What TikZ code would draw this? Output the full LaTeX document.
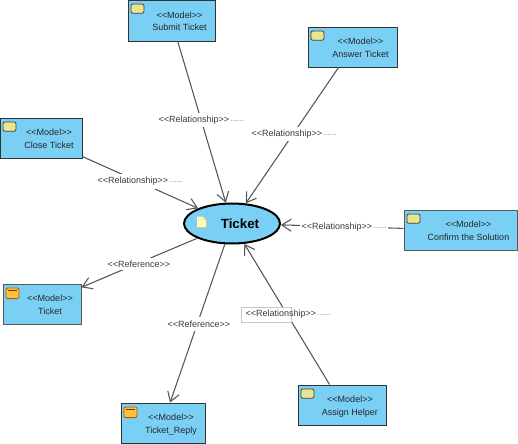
\documentclass[tikz,border=0pt]{standalone}
\usepackage{fontspec}
\setmainfont{Liberation Sans}
\usetikzlibrary{shapes.geometric,arrows.meta,calc}
\definecolor{modelblue}{HTML}{7ACFF5}
\definecolor{edgegrey}{HTML}{555555}
\definecolor{labelgrey}{HTML}{3A3A3A}
\definecolor{iconyellow}{HTML}{E8E48F}
\definecolor{iconorange}{HTML}{FFC040}
\newcommand{\mtext}[2]{\kern12pt\raisebox{-2.7pt}[0pt][0pt]{\begin{tabular}{@{}c@{}}#1\\#2\end{tabular}}}
\newcommand{\stm}[1]{{<}{<}#1{>}{>}}
\newcommand{\trail}{\kern1pt{\fontsize{4pt}{4pt}\selectfont\color{black}·\kern.1pt·\kern.1pt·\kern.1pt·\kern.1pt·\kern.1pt·\kern.1pt·}}
\tikzset{
  model/.style={draw=#1,fill=modelblue,line width=.7pt,rectangle,inner sep=0pt,
    font=\fontsize{6.75pt}{9.4pt}\selectfont,text=black!85,anchor=center},
  model/.default={black!80},
  conn/.style={draw=edgegrey,line width=.8pt,-{Straight Barb[length=7pt,width=9pt,line width=.8pt]}},
  lab/.style={fill=white,inner xsep=1pt,inner ysep=0pt,minimum height=11pt,anchor=west,
    font=\fontsize{6.75pt}{8pt}\selectfont,text=labelgrey},
  yicon/.style={draw=black!75,fill=iconyellow,rounded corners=1.5pt,line width=.6pt,
    minimum width=9.8pt,minimum height=7pt,inner sep=0pt,anchor=north west},
  oicon/.style={draw=orange!70!black,fill=iconorange,rounded corners=1.5pt,line width=.6pt,
    minimum width=9.8pt,minimum height=8pt,inner sep=0pt,anchor=north west},
}
\begin{document}
\begin{tikzpicture}[x=.75pt,y=-.75pt]
\useasboundingbox (0,0) rectangle (518,443);
% main use case
\node[ellipse,draw=black,fill=modelblue,line width=1.5pt,minimum width=72pt,minimum height=30pt,inner sep=0pt,
  font=\fontsize{10pt}{12pt}\selectfont\bfseries] (ticket) at (232,223.5) {\kern12pt Ticket};
% models
\node[model,minimum width=65.25pt,minimum height=30.75pt] (submit) at (171.5,20.5) {\mtext{\stm{Model}}{Submit Ticket}};
\node[model,minimum width=66.75pt,minimum height=30pt] (answer) at (352.5,47) {\mtext{\stm{Model}}{Answer Ticket}};
\node[model,minimum width=61.5pt,minimum height=30pt] (close) at (41,138) {\mtext{\stm{Model}}{Close Ticket}};
\node[model=black!65,minimum width=84.75pt,minimum height=30pt] (confirm) at (460.5,230) {\mtext{\stm{Model}}{Confirm the Solution}};
\node[model=black!65,minimum width=58.5pt,minimum height=30pt] (tmodel) at (42,304) {\mtext{\stm{Model}}{Ticket}};
\node[model,minimum width=63pt,minimum height=30pt] (reply) at (163,423) {\mtext{\stm{Model}}{Ticket\_Reply}};
\node[model,minimum width=66pt,minimum height=30pt] (assign) at (342,405) {\mtext{\stm{Model}}{Assign Helper}};
% icons
\node[yicon] (isubmit) at ($(submit.north west)+(3,4)$) {};
\node[yicon] (ianswer) at ($(answer.north west)+(3,4)$) {};
\node[yicon] (iclose) at ($(close.north west)+(3,4)$) {};
\node[yicon] (iconfirm) at ($(confirm.north west)+(3,4)$) {};
\node[yicon] (iassign) at ($(assign.north west)+(3,4)$) {};
\node[oicon] (itmodel) at ($(tmodel.north west)+(3,4)$) {};
\node[oicon] (ireply) at ($(reply.north west)+(3,4)$) {};
\draw[orange!45!black,line width=.6pt] ($(itmodel.north west)+(2,3)$) -- ($(itmodel.north east)+(-2,3)$);
\draw[orange!45!black,line width=.6pt] ($(ireply.north west)+(2,3)$) -- ($(ireply.north east)+(-2,3)$);
% note icon
\fill[black!25] (197,217) -- (203,217) -- (206.5,220.5) -- (206.5,228) -- (197,228) -- cycle;
\fill[yellow!30!white] (197,216.5) -- (203,216.5) -- (206,219.5) -- (206,227) -- (197,227) -- cycle;
\fill[yellow!55!orange!60!white] (203,216.5) -- (206,219.5) -- (203,219.5) -- cycle;
% connectors
\draw[conn] (submit) -- (ticket);
\draw[conn] (answer) -- (ticket);
\draw[conn] (close) -- (ticket);
\draw[conn] (confirm) -- (ticket);
\draw[conn] (assign) -- (ticket);
\draw[conn] (ticket) -- (tmodel);
\draw[conn] (ticket) -- (reply);
% labels
\node[lab] (l1) at (157,120) {\stm{Relationship}\trail};
\node[lab] (l2) at (250,134) {\stm{Relationship}\trail};
\node[lab] (l3) at (96,181.5) {\stm{Relationship}\trail};
\node[lab] (l4) at (300,227) {\stm{Relationship}\trail};
\node[lab,minimum height=9pt] (l6) at (106,264) {\stm{Reference}};
\node[lab] (l7) at (166,324) {\stm{Reference}};
\node[draw=black!22,fill=white,line width=.7pt,minimum width=37.5pt,minimum height=11.25pt,inner sep=0pt] (lbox) at (266,314.5) {};
\node[lab,fill=none] (l5) at (244,314) {\stm{Relationship}\trail};
\end{tikzpicture}
\end{document}
